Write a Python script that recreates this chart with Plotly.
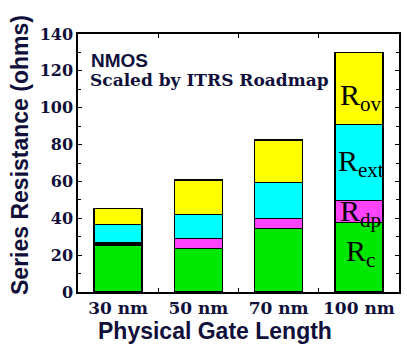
import plotly.graph_objects as go

categories = ["30 nm", "50 nm", "70 nm", "100 nm"]
r_c = [25.5, 23.7, 34.4, 37.6]
r_dp = [1.0, 5.2, 5.4, 12.1]
r_ext = [10.2, 13.2, 19.7, 41.3]
r_ov = [8.7, 18.7, 23.0, 39.0]
series_names = ["R<sub>c</sub>", "R<sub>dp</sub>", "R<sub>ext</sub>", "R<sub>ov</sub>"]
series_values = [r_c, r_dp, r_ext, r_ov]
series_colors = ["#00E800", "#FF44FF", "#00FFFF", "#FFFF00"]
label_y = [21.0, 43.0, 70.0, 106.0]
y_ticks = [0, 20, 40, 60, 80, 100, 120, 140]

fig = go.Figure()
for name, vals, col in zip(series_names, series_values, series_colors):
    fig.add_trace(go.Bar(x=categories, y=vals, name=name, marker_color=col,
                         marker_line_color="black", marker_line_width=1.5,
                         width=0.6, showlegend=False))

for name, yv in zip(series_names, label_y):
    fig.add_annotation(x=categories[-1], y=yv, text=name, showarrow=False,
                       xanchor="center", yanchor="middle", xshift=2,
                       font=dict(family="Liberation Serif", size=30, color="black"))

fig.add_annotation(xref="paper", yref="paper", x=(89 - 78) / 321, y=(292 - 61) / 258,
                   xanchor="left", yanchor="middle", text="NMOS", showarrow=False,
                   font=dict(family="Liberation Sans", size=19, color="#10103a", weight="bold"))
fig.add_annotation(xref="paper", yref="paper", x=(88 - 78) / 321, y=(292 - 80) / 258,
                   xanchor="left", yanchor="middle", text="Scaled by ITRS Roadmap", showarrow=False,
                   font=dict(family="DejaVu Serif", size=17, color="#10103a", weight="bold"))

fig.add_annotation(xref="paper", yref="paper", x=(215 - 78) / 321, y=(292 - 331) / 258,
                   xanchor="center", yanchor="middle", text="Physical Gate Length", showarrow=False,
                   font=dict(family="Liberation Sans", size=23, color="#10103a", weight="bold"))
fig.add_annotation(xref="paper", yref="paper", x=(20 - 78) / 321, y=(292 - 155) / 258,
                   xanchor="center", yanchor="middle", text="Series Resistance (ohms)", showarrow=False,
                   textangle=-90,
                   font=dict(family="Liberation Sans", size=23, color="#10103a", weight="bold"))

fig.update_layout(
    barmode="stack",
    width=407, height=347,
    margin=dict(l=78, r=8, t=34, b=55),
    plot_bgcolor="white", paper_bgcolor="white",
    xaxis=dict(range=[-0.5, 3.5], showline=True, linecolor="black", linewidth=1.5,
               mirror="ticks", ticks="inside", tickson="boundaries", ticklen=4,
               tickcolor="black", showgrid=False, tickangle=0, automargin=False,
               tickfont=dict(family="DejaVu Serif", size=17, color="#10103a", weight="bold")),
    yaxis=dict(range=[0, 140], tickvals=y_ticks, showline=True, linecolor="black",
               linewidth=1.5, mirror="ticks", ticks="inside", ticklen=4, tickcolor="black",
               showgrid=False, zeroline=False, automargin=False,
               minor=dict(dtick=10, ticks="inside", ticklen=3, tickcolor="black"),
               tickfont=dict(family="DejaVu Serif", size=16, color="#10103a", weight="bold")),
)

fig.write_html("out.html")
